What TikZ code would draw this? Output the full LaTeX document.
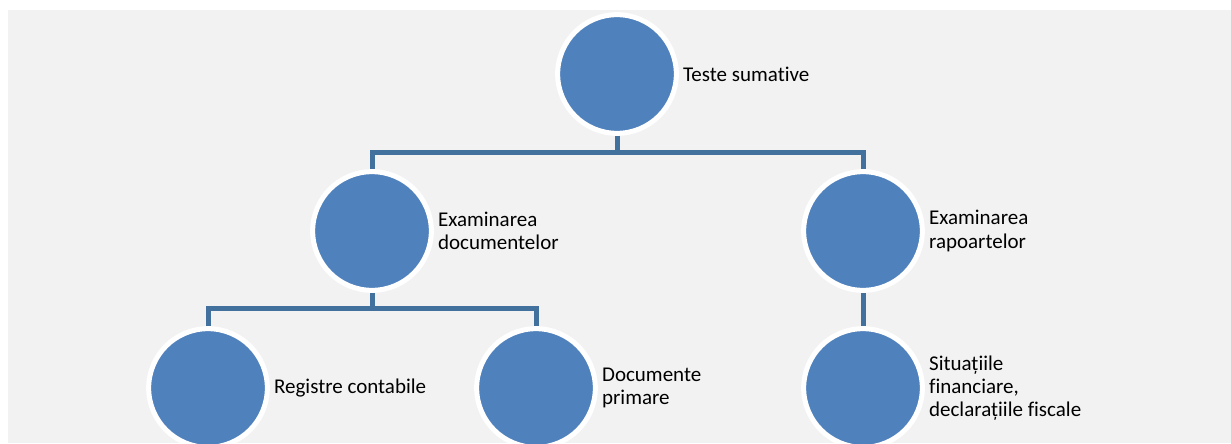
\documentclass[tikz,border=0pt]{standalone}
\usepackage{fontspec}
\setmainfont{Carlito}[Ligatures=NoCommon]
\usetikzlibrary{positioning}
\definecolor{ballblue}{HTML}{4F81BD}
\definecolor{linkblue}{HTML}{41719C}
\definecolor{panel}{HTML}{F2F2F2}
\begin{document}
\begin{tikzpicture}[x=0.75pt, y=-0.75pt,
    ball/.style={circle, fill=ballblue, draw=white, line width=3.75pt, minimum size=89pt, inner sep=0pt},
    lbl/.style={right=3pt of #1, inner sep=0pt, align=left, font=\fontsize{15.75}{17.5}\selectfont},
    link/.style={draw=linkblue, line width=3.75pt}]
            \clip (0,0) rectangle (1231,443);
            \fill[white] (0,0) rectangle (1231,443);
            \fill[panel] (8,10) rectangle (1231,443);

            % Level 1
            \node[ball] (s) at (617,74) {};
            \node[lbl=s] (sl) {Teste sumative};

            % Level 2
            \node[ball] (d) at (372,231) {};
            \node[lbl=d] (dl) {Examinarea\\documentelor};
            \node[ball] (r) at (863,231) {};
            \node[lbl=r] (rl) {Examinarea\\rapoartelor};

            % Level 3
            \node[ball] (d1) at (208,388) {};
            \node[lbl=d1] (d1l) {Registre contabile};
            \node[ball] (d2) at (536,388) {};
            \node[lbl=d2] (d2l) {Documente\\primare};
            \node[ball] (r1) at (863,388) {};
            \node[lbl=r1] (r1l) {Situațiile\\financiare,\\declarațiile fiscale};

            % Links
            \draw[link] (s.south) -- ++(0,17) -| (d.north);
            \draw[link] (s.south) -- ++(0,17) -| (r.north);
            \draw[link] (d.south) -- ++(0,16) -| (d1.north);
            \draw[link] (d.south) -- ++(0,16) -| (d2.north);
            \draw[link] (r.south) -- (r1.north);
\end{tikzpicture}
\end{document}
